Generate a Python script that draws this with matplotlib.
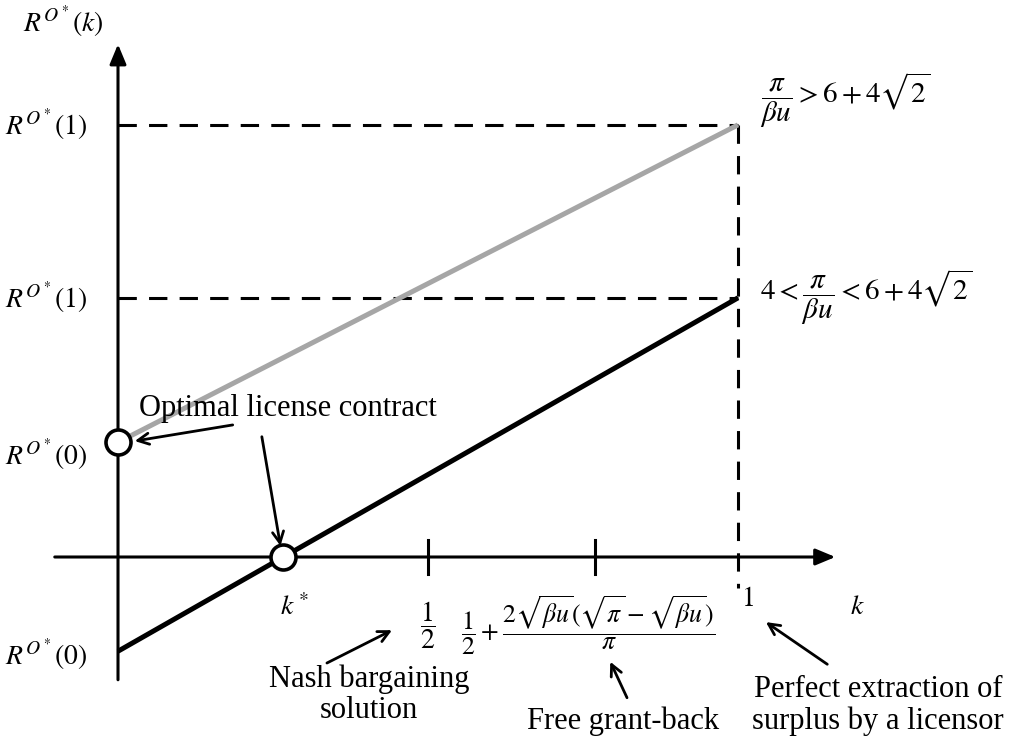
import matplotlib.pyplot as plt

plt.rcParams["font.family"] = ["Liberation Serif", "DejaVu Serif"]
plt.rcParams["mathtext.fontset"] = "stix"

# endpoints of the two royalty lines, k = 0 and k = 1
k_ends = [0.0, 1.0]
r_high = [0.185, 0.697]    # pi/(beta u) > 6 + 4 sqrt(2)
r_low = [-0.152, 0.418]    # 4 < pi/(beta u) < 6 + 4 sqrt(2)

# marked points on the k axis
k_half = 0.5
k_free = 0.77
k_star = -r_low[0] / (r_low[1] - r_low[0])

W, H, DPI = 1015, 749, 100
SCALE = 620.0  # pixels per unit
fig = plt.figure(figsize=(W / DPI, H / DPI), dpi=DPI)
ax = fig.add_axes([0, 0, 1, 1])
ax.set_xlim(-118 / SCALE, (W - 118) / SCALE)
ax.set_ylim(-(H - 557) / SCALE, 557 / SCALE)
ax.axis("off")

FS = 22
MS = 20
axis_lw = 2.2

# axes with filled arrow heads
ax.annotate("", xy=(1.157, 0), xytext=(-0.102, 0),
            arrowprops=dict(arrowstyle="-|>,head_length=1.2,head_width=0.5",
                            lw=axis_lw, color="black", shrinkA=0, shrinkB=0))
ax.annotate("", xy=(0, 0.827), xytext=(0, -0.198),
            arrowprops=dict(arrowstyle="-|>,head_length=1.2,head_width=0.5",
                            lw=axis_lw, color="black", shrinkA=0, shrinkB=0))

# dashed guides to k = 1
dash = dict(color="black", lw=2.2, dashes=(6, 4), zorder=1)
ax.plot([0, k_ends[1]], [r_high[1], r_high[1]], **dash)
ax.plot([0, k_ends[1]], [r_low[1], r_low[1]], **dash)
ax.plot([k_ends[1], k_ends[1]], [r_high[1], -0.05], **dash)

# tick marks
for kt in (k_half, k_free):
    ax.plot([kt, kt], [-0.028, 0.028], color="black", lw=axis_lw)

# royalty lines
ax.plot(k_ends, r_high, color="#a6a6a6", lw=3.6, solid_capstyle="butt", zorder=3)
ax.plot(k_ends, r_low, color="black", lw=3.6, solid_capstyle="butt", zorder=3)

# optimal contracts
circ = dict(marker="o", ms=18, mfc="white", mec="black", mew=2.6, zorder=5)
ax.plot([0], [r_high[0]], **circ)
ax.plot([k_star], [0], **circ)

# axis labels
ax.text(-0.089, 0.863, r"$R^{O^*}(k)$", fontsize=MS, ha="center", va="center")
ax.text(1.192, -0.082, r"$k$", fontsize=MS, ha="center", va="center")
ax.text(-0.05, r_high[1], r"$R^{O^*}(1)$", fontsize=MS, ha="right", va="center")
ax.text(-0.05, r_low[1], r"$R^{O^*}(1)$", fontsize=MS, ha="right", va="center")
ax.text(-0.05, 0.165, r"$R^{O^*}(0)$", fontsize=MS, ha="right", va="center")
ax.text(-0.05, -0.158, r"$R^{O^*}(0)$", fontsize=MS, ha="right", va="center")

# conditions
ax.text(1.035, 0.737, r"$\dfrac{\pi}{\beta u} > 6 + 4\sqrt{2}$", fontsize=21,
        ha="left", va="center")
ax.text(1.035, r_low[1], r"$4 < \dfrac{\pi}{\beta u} < 6 + 4\sqrt{2}$", fontsize=21,
        ha="left", va="center")

# k axis values
ax.text(0.285, -0.082, r"$k^*$", fontsize=MS, ha="center", va="center")
ax.text(k_half, -0.11, r"$\dfrac{1}{2}$", fontsize=MS, ha="center", va="center")
ax.text(0.553, -0.11,
        r"$\dfrac{1}{2} + \dfrac{2\sqrt{\beta u}(\sqrt{\pi} - \sqrt{\beta u})}{\pi}$",
        fontsize=18.5, ha="left", va="center")
ax.text(1.015, -0.069, r"$1$", fontsize=MS, ha="center", va="center")

# annotations
arrow = dict(arrowstyle="->,head_length=0.8,head_width=0.4", lw=2.0,
             color="black", shrinkA=0, shrinkB=0)
ax.text(0.274, 0.239, "Optimal license contract", fontsize=FS, ha="center", va="center")
ax.annotate("", xy=(0.027, 0.187), xytext=(0.185, 0.213), arrowprops=arrow)
ax.annotate("", xy=(0.262, 0.018), xytext=(0.232, 0.194), arrowprops=arrow)

ax.text(0.405, -0.222, "Nash bargaining\nsolution", fontsize=FS, ha="center",
        va="center", linespacing=1.1)
ax.annotate("", xy=(0.442, -0.118), xytext=(0.337, -0.171), arrowprops=arrow)

ax.text(0.815, -0.265, "Free grant-back", fontsize=FS, ha="center", va="center")
ax.annotate("", xy=(0.794, -0.169), xytext=(0.821, -0.227), arrowprops=arrow)

ax.text(1.226, -0.24, "Perfect extraction of\nsurplus by a licensor", fontsize=FS,
        ha="center", va="center", linespacing=1.1)
ax.annotate("", xy=(1.045, -0.105), xytext=(1.144, -0.173), arrowprops=arrow)

fig.savefig("out.png", dpi=DPI)
